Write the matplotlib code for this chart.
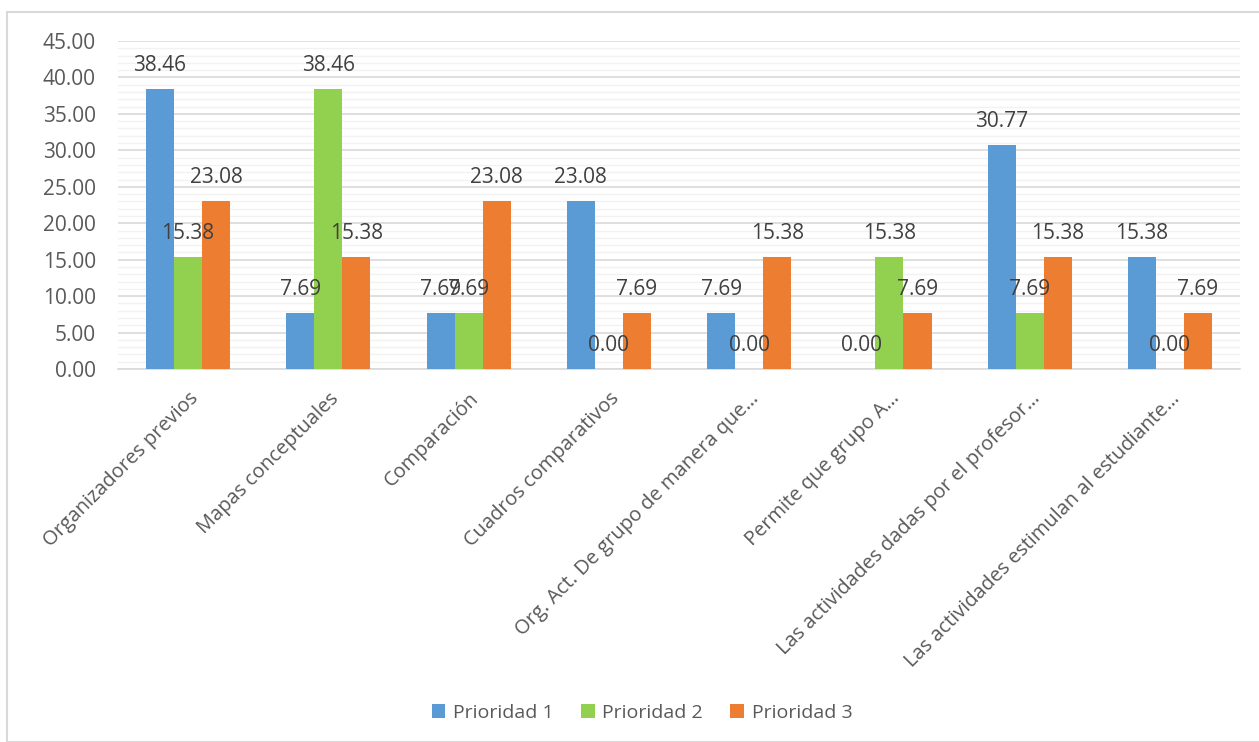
import numpy as np
import matplotlib.pyplot as plt
from matplotlib.patches import Rectangle

# ----------------------------------------------------------------

categories = ["Organizadores previos", "Mapas conceptuales", "Comparación",
              "Cuadros comparativos", "Org. Act. De grupo de manera que…",
              "Permite que grupo A…", "Las actividades dadas por el profesor…",
              "Las actividades estimulan al estudiante…"]
prioridad_1 = [38.46, 7.69, 7.69, 23.08, 7.69, 0.00, 30.77, 15.38]
prioridad_2 = [15.38, 38.46, 7.69, 0.00, 0.00, 15.38, 7.69, 0.00]
prioridad_3 = [23.08, 15.38, 23.08, 7.69, 15.38, 7.69, 15.38, 7.69]
series_names = ["Prioridad 1", "Prioridad 2", "Prioridad 3"]

# ----------------------------------------------------------------

color_list = ["#5B9BD5", "#92D050", "#ED7D31"]
barWidth = 0.2
text_col = "#595959"

plt.rcParams['font.family'] = ['Open Sans', 'DejaVu Sans']

fig = plt.figure(figsize=(12.59, 7.42), dpi=100)
ax = fig.add_axes([0.0937, 0.5027, 0.8913, 0.442])

# chart area border
fig.patches.append(Rectangle((7/1259, 0), 1.2, 1 - 12/742, transform=fig.transFigure,
                             fill=False, edgecolor="#D9D9D9", linewidth=1.5))

x = np.arange(len(categories))
all_series = [prioridad_1, prioridad_2, prioridad_3]
for i in range(len(all_series)):
        pos = x + (i - 1) * barWidth
        ax.bar(pos, all_series[i], width=barWidth, color=color_list[i], label=series_names[i], zorder=3)
        for px, v in zip(pos, all_series[i]):
                ax.annotate(f"{v:.2f}", (px, v), xytext=(0, 17), textcoords='offset points',
                            ha='center', va='center', fontsize=15, color="#404040", zorder=4)

ax.set_xlim(-0.5, len(categories) - 0.5)
ax.set_ylim(0, 45)
ax.set_yticks(np.arange(0, 46, 5))
ax.set_yticklabels([f"{t:.2f}" for t in np.arange(0, 46, 5)], fontsize=15, color=text_col)
ax.set_yticks(np.arange(0, 46, 1), minor=True)
ax.grid(axis='y', which='major', color="#D9D9D9", linewidth=1.2, zorder=0)
ax.grid(axis='y', which='minor', color="#F2F2F2", linewidth=1.0, zorder=0)
ax.set_xticks(x)
ax.set_xticklabels(categories, rotation=45, ha='right', rotation_mode='anchor',
                   fontsize=14.4, color=text_col)
ax.tick_params(axis='both', which='both', length=0)
ax.tick_params(axis='y', pad=16)
ax.tick_params(axis='x', pad=14)
for s in ['top', 'right', 'left']:
        ax.spines[s].set_visible(False)
ax.spines['bottom'].set_color("#D9D9D9")
ax.spines['bottom'].set_linewidth(1.2)

fig.legend(loc='center', bbox_to_anchor=(0.51, 1 - 713/742), ncol=3, frameon=False,
           fontsize=14, handlelength=0.7, handleheight=0.7, handletextpad=0.4,
           columnspacing=1.4, labelcolor=text_col)

fig.savefig("out.png", dpi=100)
